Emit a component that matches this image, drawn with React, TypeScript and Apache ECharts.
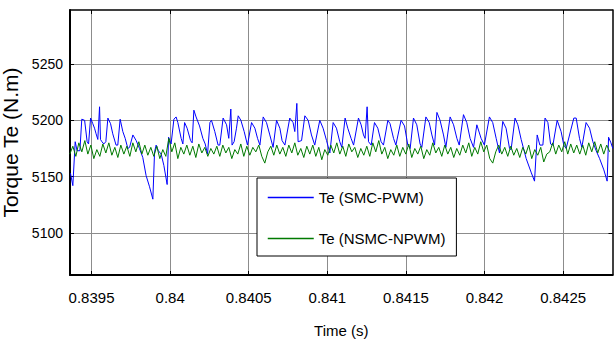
import React, { useEffect, useRef } from "react";
import * as echarts from "echarts";

// Time (s) and torque (N.m) of Te (SMC-PWM)
const blueT = [
  0.839366, 0.839381, 0.839396, 0.839408, 0.839426, 0.839438, 0.839456, 0.839472, 0.839481, 0.839494,
  0.839508, 0.839519, 0.839529, 0.83954, 0.839551, 0.839557, 0.839566, 0.839578, 0.839591, 0.839604,
  0.839621, 0.839635, 0.839656, 0.839667, 0.839682, 0.839699, 0.839714, 0.839731, 0.839742, 0.839763,
  0.839784, 0.839805, 0.839826, 0.839847, 0.839869, 0.83989, 0.839901, 0.839911, 0.839925, 0.839943,
  0.83996, 0.839981, 0.83999, 0.840006, 0.840024, 0.840038, 0.840049, 0.84007, 0.840081, 0.840092,
  0.840108, 0.84013, 0.84014, 0.840151, 0.840165, 0.840187, 0.840208, 0.840223, 0.840238, 0.840253,
  0.840263, 0.840284, 0.840305, 0.840316, 0.840337, 0.840359, 0.840373, 0.840386, 0.840394, 0.840407,
  0.840422, 0.840433, 0.84045, 0.840471, 0.840492, 0.840518, 0.840539, 0.840556, 0.840571, 0.840592,
  0.840613, 0.840634, 0.840655, 0.840677, 0.840698, 0.840712, 0.84073, 0.840761, 0.840782, 0.840793,
  0.840806, 0.840814, 0.840836, 0.840857, 0.840878, 0.840899, 0.84092, 0.840952, 0.840973, 0.840995,
  0.841016, 0.841037, 0.841058, 0.841079, 0.841092, 0.841113, 0.84113, 0.841151, 0.841167, 0.841198,
  0.841215, 0.84123, 0.84124, 0.841253, 0.841262, 0.841279, 0.8413, 0.841321, 0.841342, 0.841357,
  0.841385, 0.841399, 0.841421, 0.841436, 0.841469, 0.841491, 0.841512, 0.841527, 0.841548, 0.841569,
  0.84159, 0.841601, 0.841627, 0.841648, 0.841665, 0.841682, 0.841697, 0.841717, 0.841739, 0.841754,
  0.841781, 0.841803, 0.841824, 0.841839, 0.841866, 0.841887, 0.841908, 0.84193, 0.841951, 0.841978,
  0.841999, 0.842031, 0.842052, 0.842074, 0.842095, 0.842116, 0.842137, 0.842159, 0.842169, 0.842194,
  0.842212, 0.842233, 0.842265, 0.842296, 0.842318, 0.842335, 0.842352, 0.842371, 0.842385, 0.842403,
  0.84242, 0.842435, 0.842462, 0.842487, 0.842504, 0.842519, 0.842568, 0.842583, 0.842604, 0.842619,
  0.842646, 0.842668, 0.842689, 0.84271, 0.842732, 0.842759, 0.84278, 0.842789, 0.842804, 0.842816,
];
const blueV = [
  5153, 5142, 5181, 5173, 5173, 5201, 5200, 5181, 5179, 5202,
  5197, 5193, 5188, 5183, 5212, 5183, 5181, 5179, 5181, 5202,
  5197, 5188, 5178, 5178, 5201, 5190, 5184, 5175, 5176, 5187,
  5182, 5175, 5167, 5151, 5141, 5130, 5172, 5178, 5173, 5170,
  5160, 5143, 5185, 5179, 5201, 5203, 5198, 5184, 5179, 5198,
  5193, 5182, 5180, 5209, 5203, 5195, 5184, 5179, 5170, 5198,
  5200, 5190, 5178, 5178, 5202, 5196, 5184, 5210, 5178, 5181,
  5193, 5204, 5200, 5190, 5178, 5198, 5193, 5184, 5178, 5203,
  5198, 5187, 5176, 5200, 5193, 5182, 5178, 5202, 5198, 5190,
  5215, 5181, 5182, 5204, 5200, 5187, 5178, 5200, 5193, 5182,
  5171, 5198, 5193, 5181, 5176, 5202, 5193, 5184, 5178, 5202,
  5196, 5187, 5184, 5212, 5181, 5178, 5198, 5193, 5181, 5178,
  5200, 5197, 5184, 5178, 5200, 5195, 5178, 5175, 5202, 5196,
  5179, 5176, 5203, 5198, 5187, 5178, 5207, 5200, 5187, 5176,
  5203, 5196, 5184, 5178, 5205, 5198, 5184, 5176, 5196, 5184,
  5178, 5203, 5198, 5184, 5171, 5199, 5193, 5175, 5174, 5202,
  5196, 5183, 5166, 5154, 5146, 5187, 5178, 5178, 5202, 5198,
  5179, 5178, 5200, 5190, 5178, 5175, 5202, 5202, 5184, 5176,
  5198, 5193, 5181, 5173, 5166, 5156, 5146, 5185, 5180, 5175,
];

// Te (NSMC-NPWM): fixed sample step, torque values
const greenT0 = 0.839362;
const greenDt = 0.00001908;
const greenV = [
  5170, 5177, 5168, 5180, 5172, 5182, 5170, 5178, 5166, 5174,
  5168, 5179, 5171, 5180, 5169, 5176, 5167, 5178, 5170, 5177,
  5168, 5180, 5172, 5181, 5170, 5178, 5169, 5176, 5168, 5177,
  5166, 5174, 5168, 5184, 5172, 5180, 5166, 5176, 5170, 5178,
  5169, 5177, 5167, 5179, 5171, 5176, 5168, 5175, 5170, 5177,
  5168, 5178, 5171, 5176, 5166, 5174, 5170, 5179, 5168, 5177,
  5169, 5176, 5172, 5178, 5168, 5162, 5172, 5177, 5169, 5178,
  5170, 5176, 5168, 5178, 5171, 5180, 5169, 5175, 5167, 5177,
  5170, 5178, 5168, 5176, 5165, 5174, 5169, 5178, 5171, 5180,
  5170, 5177, 5168, 5179, 5172, 5176, 5167, 5175, 5169, 5177,
  5168, 5180, 5172, 5182, 5170, 5176, 5166, 5174, 5169, 5178,
  5168, 5176, 5170, 5179, 5167, 5175, 5170, 5177, 5166, 5174,
  5169, 5180, 5171, 5176, 5168, 5178, 5170, 5176, 5167, 5175,
  5169, 5178, 5171, 5180, 5168, 5176, 5170, 5181, 5172, 5178,
  5166, 5162, 5172, 5178, 5170, 5176, 5168, 5177, 5169, 5175,
  5167, 5176, 5170, 5178, 5166, 5174, 5169, 5176, 5163, 5170,
  5172, 5180, 5170, 5178, 5172, 5181, 5170, 5179, 5171, 5178,
  5170, 5178, 5169, 5180, 5172, 5181, 5171, 5179, 5170, 5178,
  5172,
];

const xTicks = [0.8395, 0.84, 0.8405, 0.841, 0.8415, 0.842, 0.8425];
const yTicks = [5100, 5150, 5200, 5250];
const xMin = 0.839363;
const xMax = 0.842814;
const yMin = 5062.7;
const yMax = 5297.9;

const seriesNames = ["Te (SMC-PWM)", "Te (NSMC-NPWM)"];
const FONT = '"Liberation Sans", Arial, sans-serif';

export default function App() {
  const ref = useRef<HTMLDivElement>(null);
  useEffect(() => {
    document.body.style.margin = "0";
    if (!ref.current) return;
    const chart = echarts.init(ref.current, null, { renderer: "svg" });
    const blueData = blueT.map((t, i) => [t, blueV[i]]);
    const greenData = greenV.map((v, i) => [greenT0 + i * greenDt, v]);
    const gridLineStyle = { color: "#8c8c8c", width: 1, type: "solid" as const };
    const tickStyle = { color: "#000", width: 1 };
    chart.setOption({
      animation: false,
      backgroundColor: "#fff",
      grid: { left: 70, right: 1.5, top: 10, bottom: 68, containLabel: false, outerBoundsMode: "none" },
      xAxis: [
        {
          type: "value",
          position: "bottom",
          min: xMin,
          max: xMax,
          axisLine: { onZero: false, lineStyle: { color: "#000", width: 2 } },
          axisTick: { show: true, inside: true, length: 4, customValues: xTicks, lineStyle: tickStyle },
          axisLabel: {
            customValues: xTicks,
            margin: 15,
            color: "#000",
            fontSize: 15,
            fontFamily: FONT,
            formatter: (v: number) => String(v),
          },
          splitLine: { show: true, lineStyle: gridLineStyle },
          name: "Time (s)",
          nameLocation: "middle",
          nameGap: 48,
          nameTextStyle: { color: "#000", fontSize: 15, fontFamily: FONT },
        },
        {
          type: "value",
          position: "top",
          min: xMin,
          max: xMax,
          axisLine: { onZero: false, lineStyle: { color: "#000", width: 1.5 } },
          axisTick: { show: true, inside: true, length: 4, customValues: xTicks, lineStyle: tickStyle },
          axisLabel: { show: false },
          splitLine: { show: false },
        },
      ],
      yAxis: [
        {
          type: "value",
          position: "left",
          min: yMin,
          max: yMax,
          axisLine: { show: true, onZero: false, lineStyle: { color: "#000", width: 2 } },
          axisTick: { show: true, inside: true, length: 4, customValues: yTicks, lineStyle: tickStyle },
          axisLabel: {
            customValues: yTicks,
            margin: 7,
            color: "#000",
            fontSize: 14,
            fontFamily: FONT,
            formatter: (v: number) => String(v),
          },
          splitLine: { show: true, lineStyle: gridLineStyle },
          name: "Torque Te (N.m)",
          nameLocation: "middle",
          nameGap: 41,
          nameRotate: 90,
          nameTextStyle: { color: "#000", fontSize: 21, fontFamily: FONT },
        },
        {
          type: "value",
          position: "right",
          min: yMin,
          max: yMax,
          axisLine: { show: true, onZero: false, lineStyle: { color: "#000", width: 1.5 } },
          axisTick: { show: true, inside: true, length: 4, customValues: yTicks, lineStyle: tickStyle },
          axisLabel: { show: false },
          splitLine: { show: false },
        },
      ],
      legend: {
        data: seriesNames,
        orient: "vertical",
        left: 257,
        top: 178,
        itemWidth: 46,
        itemHeight: 14,
        itemGap: 26,
        padding: [12, 11, 10, 10],
        borderColor: "#000",
        borderWidth: 1,
        backgroundColor: "#fff",
        itemStyle: { opacity: 0 },
        lineStyle: { width: 1.5 },
        textStyle: { color: "#000", fontSize: 15, fontFamily: FONT },
      },
      series: [
        {
          type: "line",
          name: seriesNames[0],
          data: blueData,
          symbol: "none",
          showSymbol: false,
          z: 2,
          lineStyle: { color: "#0000ff", width: 1 },
          itemStyle: { color: "#0000ff" },
        },
        {
          type: "line",
          name: seriesNames[1],
          data: greenData,
          symbol: "none",
          showSymbol: false,
          z: 3,
          lineStyle: { color: "#007a00", width: 1 },
          itemStyle: { color: "#007a00" },
        },
      ],
    });
    return () => chart.dispose();
  }, []);
  return <div ref={ref} style={{ width: 614, height: 343 }} />;
}
